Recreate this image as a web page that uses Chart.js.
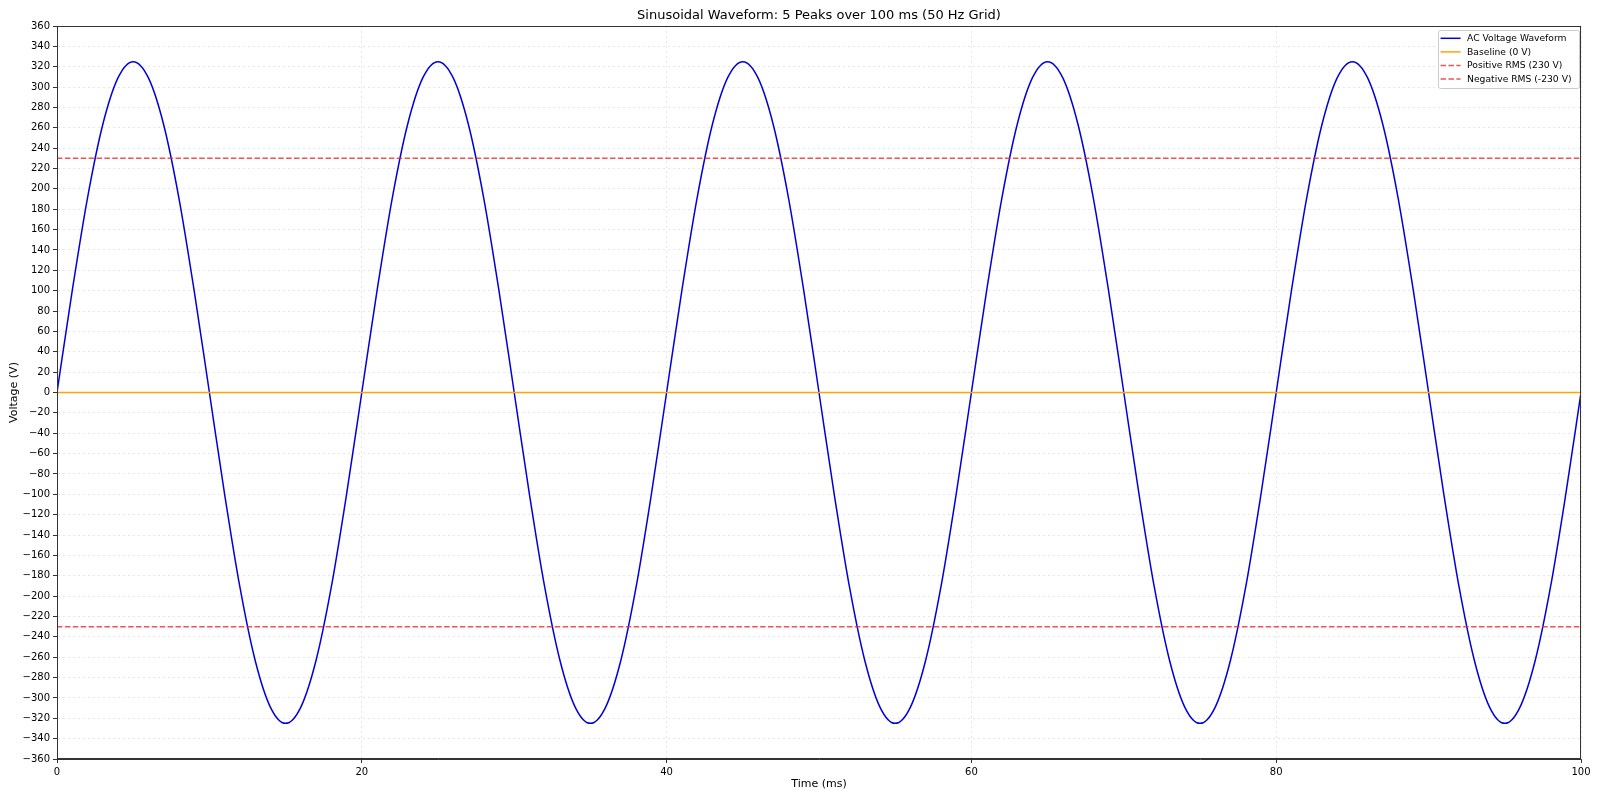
<!DOCTYPE html>
<html>
<head>
<meta charset="utf-8">
<script src="https://cdn.jsdelivr.net/npm/chart.js@4.4.1/dist/chart.umd.min.js"></script>
<style>
html,body{margin:0;padding:0;background:#fff;}
#wrap{width:1600px;height:800px;position:relative;}
</style>
</head>
<body>
<div id="wrap"><canvas id="c" width="1600" height="800"></canvas></div>
<script>
const chartTitle = 'Sinusoidal Waveform: 5 Peaks over 100 ms (50 Hz Grid)';
const xTitle = 'Time (ms)';
const yTitle = 'Voltage (V)';
const seriesNames = ['AC Voltage Waveform', 'Baseline (0 V)', 'Positive RMS (230 V)', 'Negative RMS (-230 V)'];

const timeMs = [0,1,2,3,4,5,6,7,8,9,10,11,12,13,14,15,16,17,18,19,
  20,21,22,23,24,25,26,27,28,29,30,31,32,33,34,35,36,37,38,39,
  40,41,42,43,44,45,46,47,48,49,50,51,52,53,54,55,56,57,58,59,
  60,61,62,63,64,65,66,67,68,69,70,71,72,73,74,75,76,77,78,79,
  80,81,82,83,84,85,86,87,88,89,90,91,92,93,94,95,96,97,98,99,100];
const voltage = [0,100,191,263,309,325,309,263,191,100,0,-100,-191,-263,-309,-325,-309,-263,-191,-100,
  0,100,191,263,309,325,309,263,191,100,0,-100,-191,-263,-309,-325,-309,-263,-191,-100,
  0,100,191,263,309,325,309,263,191,100,0,-100,-191,-263,-309,-325,-309,-263,-191,-100,
  0,100,191,263,309,325,309,263,191,100,0,-100,-191,-263,-309,-325,-309,-263,-191,-100,
  0,100,191,263,309,325,309,263,191,100,0,-100,-191,-263,-309,-325,-309,-263,-191,-100,0];
const baselineX = [0, 100];
const baselineY = [0, 0];
const rmsPos = [230, 230];
const rmsNeg = [-230, -230];
const xTicks = [0, 20, 40, 60, 80, 100];
const yMin = -360, yMax = 360, yStep = 20;

const FONT = "'DejaVu Sans', sans-serif";
const pts = (xs, ys) => xs.map((x, i) => ({x: x, y: ys[i]}));

const frame = {
  id: 'frame',
  afterDatasetsDraw(chart) {
    const {ctx, chartArea: a} = chart;
    ctx.save();
    ctx.strokeStyle = '#333';
    ctx.lineWidth = 1;
    ctx.strokeRect(Math.round(a.left) + 0.5, Math.round(a.top) + 0.5, Math.round(a.right - a.left) - 1, Math.round(a.bottom - a.top) - 1);
    ctx.restore();
  },
  afterDraw(chart) {
    const {ctx, chartArea: a} = chart;
    ctx.save();
    // title centred over the plot area
    ctx.font = "13px " + FONT;
    ctx.fillStyle = '#000';
    ctx.textAlign = 'center';
    ctx.textBaseline = 'middle';
    ctx.fillText(chartTitle, (a.left + a.right) / 2, 15.5);

    // legend inside upper right
    const ds = chart.data.datasets;
    ctx.font = "9.2px " + FONT;
    let maxW = 0;
    ds.forEach(d => { maxW = Math.max(maxW, ctx.measureText(d.label).width); });
    const rowH = 13.6, padL = 3, lineLen = 20, gap = 6.5, padR = 7;
    const w = padL + lineLen + gap + maxW + padR;
    const h = 58;
    const x1 = a.right - 2.5 - w, y1 = a.top + 4;
    ctx.fillStyle = 'rgba(255,255,255,0.85)';
    ctx.strokeStyle = '#cccccc';
    ctx.lineWidth = 1;
    ctx.beginPath();
    if (ctx.roundRect) ctx.roundRect(Math.round(x1) + 0.5, Math.round(y1) + 0.5, Math.round(w), h, 2); else ctx.rect(Math.round(x1) + 0.5, Math.round(y1) + 0.5, Math.round(w), h);
    ctx.fill();
    ctx.stroke();
    ds.forEach((d, i) => {
      const cy = y1 + 8.3 + rowH * i;
      ctx.strokeStyle = d.borderColor;
      ctx.lineWidth = d.borderWidth;
      ctx.setLineDash(d.borderDash || []);
      ctx.beginPath();
      ctx.moveTo(x1 + padL, cy);
      ctx.lineTo(x1 + padL + lineLen, cy);
      ctx.stroke();
      ctx.setLineDash([]);
      ctx.fillStyle = '#000';
      ctx.textBaseline = 'middle';
      ctx.textAlign = 'left';
      ctx.fillText(d.label, x1 + padL + lineLen + gap, cy + 0.5);
    });
    ctx.restore();
  }
};

new Chart(document.getElementById('c'), {
  type: 'line',
  data: {
    datasets: [
      {label: seriesNames[0], data: pts(timeMs, voltage), borderColor: '#0000dd', borderWidth: 1.5, pointRadius: 0, cubicInterpolationMode: 'monotone', fill: false, order: 4},
      {label: seriesNames[1], data: pts(baselineX, baselineY), borderColor: '#ffa500', borderWidth: 1.5, pointRadius: 0, fill: false, order: 3},
      {label: seriesNames[2], data: pts(baselineX, rmsPos), borderColor: 'rgba(235,40,40,0.8)', borderWidth: 1.5, borderDash: [5.5, 2.4], pointRadius: 0, fill: false, order: 2},
      {label: seriesNames[3], data: pts(baselineX, rmsNeg), borderColor: 'rgba(235,40,40,0.8)', borderWidth: 1.5, borderDash: [5.5, 2.4], pointRadius: 0, fill: false, order: 1}
    ]
  },
  options: {
    responsive: false,
    animation: false,
    events: [],
    layout: {padding: {left: 0, right: 19, top: 26, bottom: 0}},
    plugins: {
      legend: {display: false},
      tooltip: {enabled: false},
      title: {display: false, text: chartTitle}
    },
    scales: {
      x: {
        type: 'linear', min: 0, max: 100,
        afterBuildTicks(scale) { scale.ticks = xTicks.map(v => ({value: v})); },
        afterFit(scale) { scale.height = 41; },
        ticks: {color: '#000', font: {family: FONT, size: 10}, padding: 3, maxRotation: 0, autoSkip: false},
        grid: {color: 'rgba(0,0,0,0.12)', lineWidth: 0.8, tickLength: 4, tickColor: '#333', tickWidth: 1, tickBorderDash: []},
        border: {display: true, color: '#333', width: 1, dash: [2, 3]},
        title: {display: true, text: xTitle, color: '#000', font: {family: FONT, size: 11}, padding: {top: 0, bottom: 9}}
      },
      y: {
        type: 'linear', min: yMin, max: yMax,
        afterFit(scale) { scale.width = 57; },
        ticks: {stepSize: yStep, color: '#000', font: {family: FONT, size: 10}, padding: 3, autoSkip: false,
          callback: v => (v < 0 ? '\u2212' + Math.abs(v) : String(v))},
        grid: {color: 'rgba(0,0,0,0.12)', lineWidth: 0.8, tickLength: 4, tickColor: '#333', tickWidth: 1, tickBorderDash: []},
        border: {display: true, color: '#333', width: 1, dash: [2, 3]},
        title: {display: true, text: yTitle, color: '#000', font: {family: FONT, size: 11}, padding: {top: 8, bottom: 0}}
      }
    }
  },
  plugins: [frame]
});
</script>
</body>
</html>
